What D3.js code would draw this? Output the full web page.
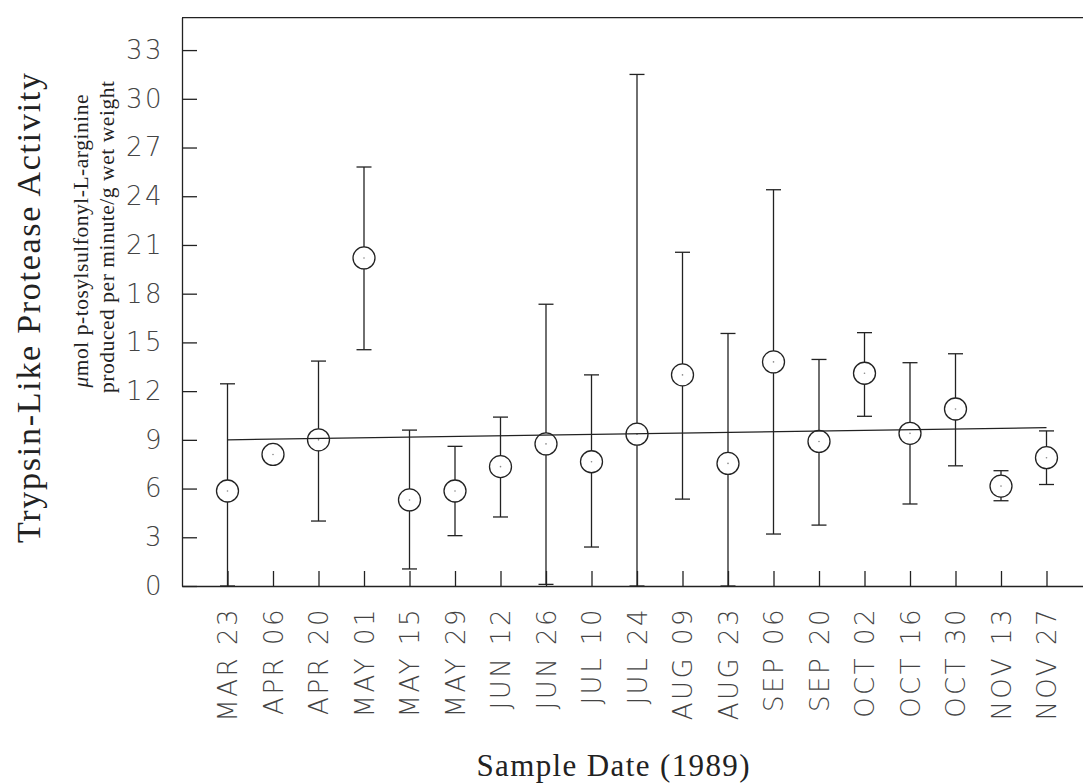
<!DOCTYPE html>
<html>
<head>
<meta charset="utf-8">
<script src="https://d3js.org/d3.v7.min.js"></script>
<style>
  body { margin: 0; background: #fff; }
  .tick line { stroke: #222; stroke-width: 1.3; }
  .domain { stroke: #222; stroke-width: 1.3; }
</style>
</head>
<body>
<div class="chart"></div>
<script>
// sample dates (1989)
var dates = ["MAR 23", "APR 06", "APR 20", "MAY 01", "MAY 15", "MAY 29", "JUN 12", "JUN 26", "JUL 10",
  "JUL 24", "AUG 09", "AUG 23", "SEP 06", "SEP 20", "OCT 02", "OCT 16", "OCT 30", "NOV 13", "NOV 27"];

// mean activity
var means = [5.85, 8.1, 9.0, 20.2, 5.3, 5.85, 7.35, 8.75, 7.65, 9.35, 13.0, 7.55, 13.8, 8.9, 13.1, 9.4, 10.9, 6.15, 7.9];

// error bar ends (null = no bar)
var upper = [12.45, null, 13.85, 25.8, 9.6, 8.6, 10.4, 17.35, 13.0, 31.5, 20.55, 15.55, 24.4, 13.95, 15.6, 13.75, 14.3, 7.1, 9.55];
var lower = [0, null, 4.0, 14.55, 1.05, 3.1, 4.25, 0.1, 2.4, 0, 5.35, 0, 3.2, 3.75, 10.45, 5.05, 7.4, 5.25, 6.25];

// regression line ends (first and last date)
var trendDates = ["MAR 23", "NOV 27"];
var trendValues = [9.0, 9.75];

var yTicks = [0, 3, 6, 9, 12, 15, 18, 21, 24, 27, 30, 33];

var svgWidth = 1083;
var svgHeight = 783;

var margin = { top: 17.6, right: -9, bottom: 197, left: 182 };

var width = svgWidth - margin.left - margin.right;
var height = svgHeight - margin.top - margin.bottom;

var svg = d3.select(".chart")
  .append("svg")
  .attr("width", svgWidth)
  .attr("height", svgHeight);

var chartGroup = svg.append("g")
  .attr("transform", `translate(${margin.left}, ${margin.top})`);

var data = dates.map(function(d, i) {
  return { date: d, mean: means[i], hi: upper[i], lo: lower[i] };
});

// scales
var xScale = d3.scalePoint()
  .domain(dates)
  .range([0, width])
  .padding(1);

var yScale = d3.scaleLinear()
  .domain([0, 35])
  .range([height, 0]);

// axes, ticks pointing inward
var bottomAxis = d3.axisBottom(xScale).tickSizeInner(-15).tickSizeOuter(0).tickPadding(21);
var leftAxis = d3.axisLeft(yScale).tickValues(yTicks).tickSizeInner(-15).tickSizeOuter(0).tickPadding(18);

var xAxisG = chartGroup.append("g")
  .attr("transform", `translate(0, ${height})`)
  .call(bottomAxis);

xAxisG.selectAll("text")
  .attr("transform", "rotate(-90)")
  .attr("x", -21)
  .attr("y", 0)
  .attr("dy", "0.36em")
  .attr("text-anchor", "end")
  .attr("font-family", "DejaVu Sans")
  .attr("font-weight", 200)
  .attr("font-size", 26)
  .attr("letter-spacing", 2.5)
  .attr("fill", "#444");

var yAxisG = chartGroup.append("g")
  .call(leftAxis);

yAxisG.selectAll("text")
  .attr("font-family", "DejaVu Sans")
  .attr("font-weight", 200)
  .attr("font-size", 26)
  .attr("letter-spacing", 2.5)
  .attr("fill", "#444");

// top border
chartGroup.append("line")
  .attr("x1", 0)
  .attr("x2", width)
  .attr("y1", 0)
  .attr("y2", 0)
  .attr("stroke", "#222")
  .attr("stroke-width", 1.3);

// error bars
var bars = data.filter(d => d.hi !== null);

chartGroup.selectAll(".bar")
  .data(bars)
  .enter()
  .append("line")
  .attr("class", "bar")
  .attr("x1", d => xScale(d.date))
  .attr("x2", d => xScale(d.date))
  .attr("y1", d => yScale(d.hi))
  .attr("y2", d => yScale(d.lo))
  .attr("stroke", "#222")
  .attr("stroke-width", 1.3);

chartGroup.selectAll(".capHi")
  .data(bars)
  .enter()
  .append("line")
  .attr("class", "capHi")
  .attr("x1", d => xScale(d.date) - 7.5)
  .attr("x2", d => xScale(d.date) + 7.5)
  .attr("y1", d => yScale(d.hi))
  .attr("y2", d => yScale(d.hi))
  .attr("stroke", "#222")
  .attr("stroke-width", 1.3);

chartGroup.selectAll(".capLo")
  .data(bars)
  .enter()
  .append("line")
  .attr("class", "capLo")
  .attr("x1", d => xScale(d.date) - 7.5)
  .attr("x2", d => xScale(d.date) + 7.5)
  .attr("y1", d => yScale(d.lo))
  .attr("y2", d => yScale(d.lo))
  .attr("stroke", "#222")
  .attr("stroke-width", 1.3);

// mean circles
chartGroup.selectAll(".pt")
  .data(data)
  .enter()
  .append("circle")
  .attr("class", "pt")
  .attr("cx", d => xScale(d.date))
  .attr("cy", d => yScale(d.mean))
  .attr("r", 11)
  .attr("fill", "#fff")
  .attr("stroke", "#222")
  .attr("stroke-width", 1.3);

chartGroup.selectAll(".dot")
  .data(data)
  .enter()
  .append("circle")
  .attr("class", "dot")
  .attr("cx", d => xScale(d.date))
  .attr("cy", d => yScale(d.mean))
  .attr("r", 0.8)
  .attr("fill", "#888");

// regression line
var line = d3.line()
  .x((d, i) => xScale(trendDates[i]))
  .y(d => yScale(d));

chartGroup.append("path")
  .datum(trendValues)
  .attr("d", line)
  .attr("fill", "none")
  .attr("stroke", "#222")
  .attr("stroke-width", 1.3);

// axis titles
svg.append("text")
  .attr("transform", "translate(40, 308) rotate(-90)")
  .attr("text-anchor", "middle")
  .attr("font-family", "Liberation Serif")
  .attr("font-size", 34)
  .attr("textLength", 470)
  .attr("lengthAdjust", "spacing")
  .attr("fill", "#222")
  .text("Trypsin-Like Protease Activity");

var sub1 = svg.append("text")
  .attr("transform", "translate(88, 241) rotate(-90)")
  .attr("text-anchor", "middle")
  .attr("font-family", "Liberation Serif")
  .attr("font-size", 21.5)
  .attr("textLength", 293)
  .attr("lengthAdjust", "spacing")
  .attr("fill", "#222");
sub1.append("tspan").attr("font-style", "italic").text("\u03bc");
sub1.append("tspan").text("mol p-tosylsulfonyl-L-arginine");

svg.append("text")
  .attr("transform", "translate(114, 237) rotate(-90)")
  .attr("text-anchor", "middle")
  .attr("font-family", "Liberation Serif")
  .attr("font-size", 21.5)
  .attr("textLength", 312)
  .attr("lengthAdjust", "spacing")
  .attr("fill", "#222")
  .text("produced per minute/g wet weight");

svg.append("text")
  .attr("x", 613)
  .attr("y", 776)
  .attr("text-anchor", "middle")
  .attr("font-family", "Liberation Serif")
  .attr("font-size", 31)
  .attr("textLength", 273)
  .attr("lengthAdjust", "spacing")
  .attr("fill", "#222")
  .text("Sample Date (1989)");
</script>
</body>
</html>
